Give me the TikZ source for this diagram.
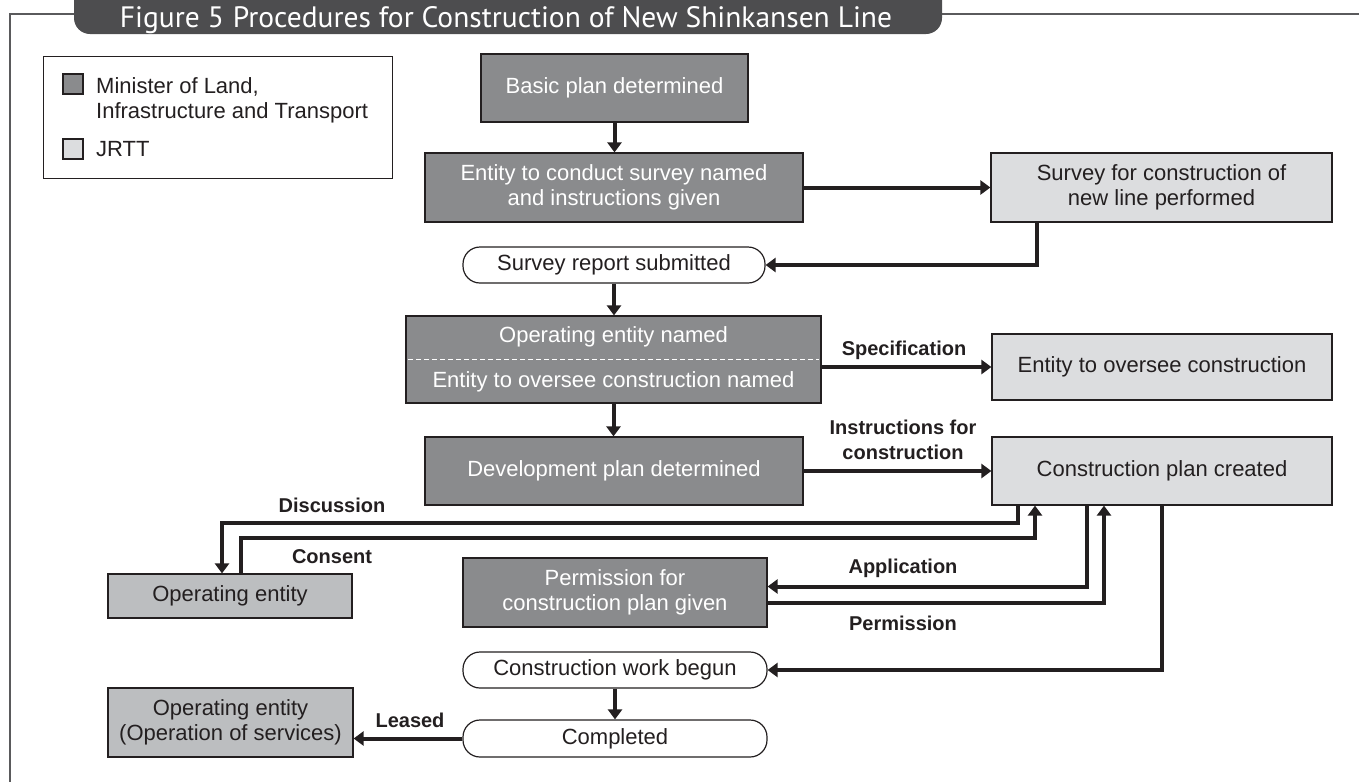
\documentclass[tikz,border=0pt]{standalone}
\usepackage{fontspec}
\setmainfont{Liberation Sans}
\newfontfamily\titlefont{PT Sans}
\usetikzlibrary{arrows.meta,positioning}
\definecolor{ink}{HTML}{231F20}
\definecolor{mlit}{HTML}{8A8B8D}
\definecolor{jrtt}{HTML}{DCDDDF}
\definecolor{oper}{HTML}{BCBEC0}
\definecolor{tabgray}{HTML}{4D4D4F}
\definecolor{framegray}{HTML}{5A5A5C}

\begin{document}
\begin{tikzpicture}[x=1pt, y=-1pt,
  font=\fontsize{22}{25}\selectfont,
  box/.style={draw=ink, line width=1.2pt, inner sep=0pt, align=center},
  mbox/.style={box, fill=mlit, text=white},
  jbox/.style={box, fill=jrtt, text=ink},
  obox/.style={box, fill=oper, text=ink},
  pill/.style={box, fill=white, text=ink, rounded corners=17pt},
  flow/.style={draw=ink, line width=4pt, -{Triangle[width=14pt,length=10pt]}},
  tag/.style={font=\fontsize{20}{25}\selectfont\bfseries, text=ink, align=center}]
  \clip (0,0) rectangle (1359,782);

  % frame and title tab
  \draw[framegray, line width=2pt] (1359,14) -- (10,14) -- (10,782);
  \fill[tabgray, rounded corners=16pt] (74,-30) -- (74,34) -- (942,34) -- (942,-30) -- cycle;
  \node[anchor=base, text=white, inner sep=0pt, font=\titlefont\fontsize{29.5}{31}\selectfont] (title) at (506,27) {Figure 5\hspace{9pt}Procedures for Construction of New Shinkansen Line};

  % legend
  \node[draw=ink, line width=1pt, minimum width=349pt, minimum height=122pt] (legend) at (217.5,117) {};
  \node[box, fill=mlit, minimum size=20pt] (keym) at (73,84) {};
  \node[box, fill=jrtt, minimum size=20pt] (keyj) at (73,149) {};
  \node[anchor=west, align=left, inner sep=0pt, text=ink] (keymtxt) at (96,100) {Minister of Land,\\Infrastructure and Transport};
  \node[anchor=west, inner sep=0pt, text=ink] (keyjtxt) at (96,149) {JRTT};

  % steps
  \node[mbox, minimum width=267pt, minimum height=68pt] (basic) at (614.5,88) {Basic plan determined};
  \node[mbox, minimum width=378pt, minimum height=69pt] (conduct) at (614,187.5) {Entity to conduct survey named\\and instructions given};
  \node[jbox, minimum width=341pt, minimum height=69pt] (survey) at (1161.5,187.5) {Survey for construction of\\new line performed};
  \node[pill, minimum width=302pt, minimum height=36pt] (report) at (614,265) {Survey report submitted};
  \node[mbox, minimum width=415pt, minimum height=87pt] (opnamed) at (613.5,359.5) {Operating entity named\\[20pt]Entity to oversee construction named};
  \draw[white, line width=1.5pt, dash pattern=on 5pt off 3pt] ([xshift=3pt]opnamed.west) -- ([xshift=-3pt]opnamed.east);
  \node[jbox, minimum width=340pt, minimum height=66pt] (oversee) at (1162,367) {Entity to oversee construction};
  \node[mbox, minimum width=378pt, minimum height=68pt] (devplan) at (614,471) {Development plan determined};
  \node[jbox, minimum width=340pt, minimum height=68pt] (conplan) at (1162,471) {Construction plan created};
  \node[obox, minimum width=244pt, minimum height=44pt] (opent) at (230,596) {Operating entity};
  \node[mbox, minimum width=304pt, minimum height=69pt] (permit) at (615,592.5) {Permission for\\construction plan given};
  \node[pill, minimum width=304pt, minimum height=36pt] (begun) at (615,670) {Construction work begun};
  \node[pill, minimum width=304pt, minimum height=37pt] (done) at (615,738.5) {Completed};
  \node[obox, minimum width=245pt, minimum height=69pt] (lease) at (230.5,722.5) {Operating entity\\(Operation of services)};

  % labels
  \node[tag] (lspec) at (904,350) {Specification};
  \node[tag] (linstr) at (903,440) {Instructions for\\construction};
  \node[tag] (ldisc) at (332,505) {Discussion};
  \node[tag] (lcons) at (332,557) {Consent};
  \node[tag] (lappl) at (903,568) {Application};
  \node[tag] (lperm) at (903,623) {Permission};
  \node[tag] (lleas) at (410,720) {Leased};

  % connectors
  \draw[flow] (basic.south) -- (basic.south |- conduct.north);
  \draw[flow] (conduct.east) -- (conduct.east -| survey.west);
  \draw[flow] ([xshift=-125pt]survey.south) |- (report.east);
  \draw[flow] (report.south) -- (report.south |- opnamed.north);
  \draw[flow] (opnamed.east |- oversee.west) -- (oversee.west);
  \draw[flow] (opnamed.south) -- (opnamed.south |- devplan.north);
  \draw[flow] (devplan.east) -- (conplan.west);
  \draw[flow] ([xshift=-144pt]conplan.south) -- ++(0,17) -| ([xshift=-8pt]opent.north);
  \draw[flow] ([xshift=11pt]opent.north) -- ++(0,-35) -| ([xshift=-127pt]conplan.south);
  \draw[flow] ([xshift=-75pt]conplan.south) |- ([yshift=6pt]permit.east);
  \draw[flow] ([yshift=-10pt]permit.east) -| ([xshift=-58pt]conplan.south);
  \draw[flow] (conplan.south) |- (begun.east);
  \draw[flow] (begun.south) -- (done.north);
  \draw[flow] (done.west) -- (done.west -| lease.east);
\end{tikzpicture}
\end{document}
